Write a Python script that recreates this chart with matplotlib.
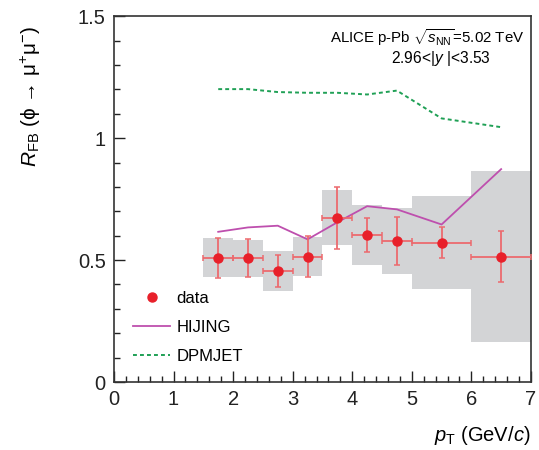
import matplotlib

matplotlib.use("Agg")
import matplotlib.pyplot as plt
import matplotlib.ticker as mticker
from matplotlib.lines import Line2D

# bins in pT (GeV/c)
bin_lo = [1.5, 2.0, 2.5, 3.0, 3.5, 4.0, 4.5, 5.0, 6.0]
bin_hi = [2.0, 2.5, 3.0, 3.5, 4.0, 4.5, 5.0, 6.0, 7.0]
pt_center = [1.75, 2.25, 2.75, 3.25, 3.75, 4.25, 4.75, 5.5, 6.5]

r_fb = [0.509, 0.507, 0.455, 0.514, 0.673, 0.602, 0.578, 0.571, 0.514]
stat_err = [0.081, 0.078, 0.065, 0.083, 0.126, 0.070, 0.100, 0.064, 0.104]
syst_err = [0.080, 0.076, 0.083, 0.081, 0.113, 0.124, 0.135, 0.190, 0.350]

hijing = [0.616, 0.634, 0.641, 0.585, 0.655, 0.721, 0.708, 0.646, 0.873]
dpmjet = [1.201, 1.201, 1.189, 1.186, 1.186, 1.179, 1.195, 1.081, 1.045]

plt.rcParams.update(
    {
        "font.family": "Liberation Sans",
        "mathtext.fontset": "custom",
        "mathtext.rm": "Liberation Sans",
        "mathtext.it": "Liberation Sans:italic",
        "mathtext.bf": "Liberation Sans:bold",
    }
)

fig = plt.figure(figsize=(5.39, 4.50), dpi=100)
ax = fig.add_axes([0.2115, 0.151, 0.7735, 0.813])

widths = [h - l for l, h in zip(bin_lo, bin_hi)]
bottoms = [y - s for y, s in zip(r_fb, syst_err)]
heights = [2 * s for s in syst_err]
ax.bar(bin_lo, heights, width=widths, bottom=bottoms, align="edge",
       color="#D3D4D6", linewidth=0, zorder=1)

xerr_lo = [c - l for c, l in zip(pt_center, bin_lo)]
xerr_hi = [h - c for c, h in zip(pt_center, bin_hi)]
ax.errorbar(pt_center, r_fb, yerr=stat_err, xerr=[xerr_lo, xerr_hi],
            fmt="none", ecolor="#EC6A6E", elinewidth=1.3, capsize=2.0,
            capthick=1.1, zorder=3)
ax.plot(pt_center, r_fb, "o", color="#E8202A", markersize=6.5, zorder=4)

ax.plot(pt_center, hijing, color="#BE4FAE", linewidth=1.3, zorder=2)
ax.plot(pt_center, dpmjet, color="#1FA055", linewidth=1.4,
        linestyle=(0, (2.0, 1.6)), zorder=2)

ax.set_xlim(0, 7)
ax.set_ylim(0, 1.5)
ax.xaxis.set_major_locator(mticker.MultipleLocator(1))
ax.xaxis.set_minor_locator(mticker.MultipleLocator(0.2))
ax.yaxis.set_major_locator(mticker.FixedLocator([0, 0.5, 1, 1.5]))
ax.yaxis.set_minor_locator(mticker.MultipleLocator(0.1))
ax.yaxis.set_major_formatter(mticker.FuncFormatter(lambda v, p: f"{v:g}"))
ax.tick_params(which="both", direction="in", top=False, right=False,
               labelsize=14.5, colors="#222222", width=1.0)
ax.tick_params(which="major", length=8, pad=6)
ax.tick_params(which="minor", length=4.5)
for spine in ax.spines.values():
    spine.set_linewidth(1.2)
    spine.set_color("#333333")

ax.set_ylabel("$R_{\\rm FB}$ (\u03d5 \u2192 \u03bc$^{+}$\u03bc$^{-}$)", fontsize=15)
ax.yaxis.set_label_coords(-0.17, 0.78)
ax.set_xlabel(r"$p_{\rm T}$ (GeV/$c$)", fontsize=14.5, ha="right", va="center")
ax.xaxis.set_label_coords(1.0, -0.145)

ax.text(0.985, 0.94, r"ALICE p-Pb $\sqrt{s_{\rm NN}}$=5.02 TeV",
        transform=ax.transAxes, ha="right", va="center", fontsize=10.8)
ax.text(0.785, 0.885, r"2.96<|$y$ |<3.53", transform=ax.transAxes,
        ha="center", va="center", fontsize=11.2)

handles = [
    Line2D([], [], marker="o", linestyle="none", color="#E8202A", markersize=6.5),
    Line2D([], [], color="#BE4FAE", linewidth=1.3),
    Line2D([], [], color="#1FA055", linewidth=1.4, linestyle=(0, (2.0, 1.6))),
]
ax.legend(handles, ["data", "HIJING", "DPMJET"], loc="lower left",
          bbox_to_anchor=(0.01, 0.008), frameon=False, fontsize=12,
          handlelength=2.2, labelspacing=0.85, handletextpad=0.4)

fig.savefig("out.png", dpi=100)
